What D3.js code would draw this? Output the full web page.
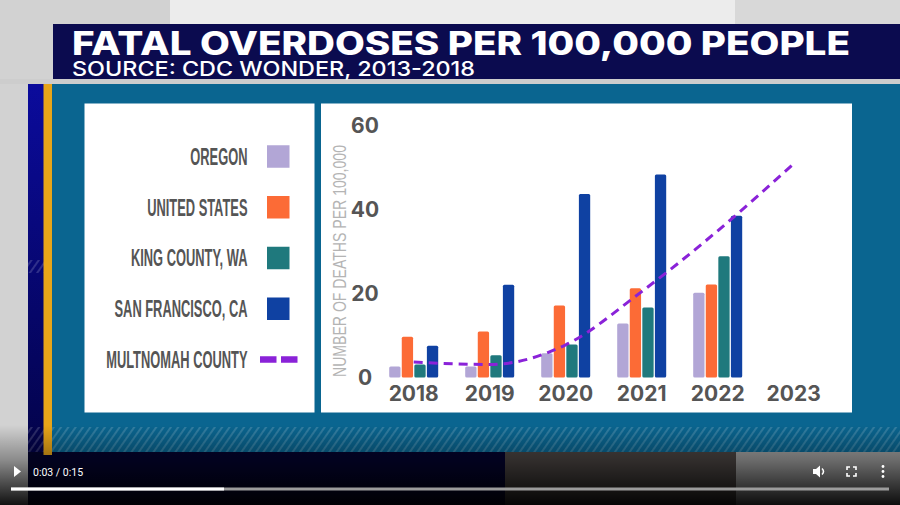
<!DOCTYPE html>
<html><head><meta charset="utf-8">
<script src="https://cdn.jsdelivr.net/npm/d3@7"></script>
<style>html,body{margin:0;padding:0;background:#000;overflow:hidden}</style>
</head><body>
<svg id="c" width="900" height="505"></svg>
<script>
// ---------- data ----------
const years = ["2018","2019","2020","2021","2022","2023"];
const seriesNames = ["OREGON","UNITED STATES","KING COUNTY, WA","SAN FRANCISCO, CA"];
const oregon       = [2.6, 2.6, 5.8, 12.9, 20.2, null];
const unitedStates = [9.7, 11.0, 17.2, 21.3, 22.2, null];
const kingCounty   = [3.1, 5.3, 7.9, 16.7, 28.9, null];
const sanFrancisco = [7.6, 22.1, 43.8, 48.4, 38.6, null];
const lineName = "MULTNOMAH COUNTY";
const multnomah    = [3.7, 3.1, 7.8, 20.5, 35.0, 51.0];
const yTicks = [0, 20, 40, 60];
const title = "FATAL OVERDOSES PER 100,000 PEOPLE";
const subtitle = "SOURCE: CDC WONDER, 2013-2018";
const yTitle = "NUMBER OF DEATHS PER 100,000";
const timeText = "0:03 / 0:15";

const barColors = ["#b2a6d6", "#fc6b36", "#1f797d", "#0f41a2"];
const lineColor = "#8a22d8";
const seriesValues = [oregon, unitedStates, kingCounty, sanFrancisco];

// ---------- frame ----------
const svg = d3.select("#c");
const W = 900, H = 505;
const defs = svg.append("defs");

const hatch = defs.append("pattern").attr("id","hatch").attr("patternUnits","userSpaceOnUse")
  .attr("width",6).attr("height",6).attr("patternTransform","rotate(35)");
hatch.append("line").attr("x1",1).attr("y1",0).attr("x2",1).attr("y2",6)
  .attr("stroke","rgba(255,255,255,0.16)").attr("stroke-width",2);

const navyG = defs.append("linearGradient").attr("id","navyG").attr("x1",0).attr("y1",0).attr("x2",0).attr("y2",1);
navyG.append("stop").attr("offset","0%").attr("stop-color","#0b0b9c");
navyG.append("stop").attr("offset","100%").attr("stop-color","#03034a");

const shade = defs.append("linearGradient").attr("id","shade").attr("x1",0).attr("y1",0).attr("x2",0).attr("y2",1);
shade.append("stop").attr("offset","0%").attr("stop-color","#000").attr("stop-opacity",0);
shade.append("stop").attr("offset","45%").attr("stop-color","#000").attr("stop-opacity",0.35);
shade.append("stop").attr("offset","100%").attr("stop-color","#000").attr("stop-opacity",0.92);

svg.append("rect").attr("width",W).attr("height",H).attr("fill","#d2d2d2");
svg.append("rect").attr("x",170).attr("y",0).attr("width",565).attr("height",84).attr("fill","#ececec");
svg.append("rect").attr("x",735).attr("y",0).attr("width",165).attr("height",84).attr("fill","#d8d8d8");
svg.append("rect").attr("x",0).attr("y",79).attr("width",W).attr("height",5).attr("fill","#cdcdcd");

// title banner
svg.append("rect").attr("x",53).attr("y",24).attr("width",W-53).attr("height",55).attr("fill","#0b0b4f");
svg.append("text").attr("x",72).attr("y",55).text(title)
  .attr("font-family","Inter, 'Liberation Sans', sans-serif").attr("font-weight",800)
  .attr("font-size",32).attr("fill","#fff")
  .attr("textLength",778).attr("lengthAdjust","spacingAndGlyphs");
svg.append("text").attr("x",72).attr("y",75.5).text(subtitle)
  .attr("font-family","Inter, 'Liberation Sans', sans-serif").attr("font-weight",500)
  .attr("font-size",20).attr("fill","#fff")
  .attr("textLength",403).attr("lengthAdjust","spacingAndGlyphs");

// teal body
svg.append("rect").attr("x",52).attr("y",84).attr("width",W-52).attr("height",368).attr("fill","#0a6590");
svg.append("rect").attr("x",28).attr("y",84).attr("width",16).attr("height",369).attr("fill","url(#navyG)");
// video lower area
svg.append("rect").attr("x",28).attr("y",452).attr("width",477).attr("height",53).attr("fill","#03032e");
svg.append("rect").attr("x",505).attr("y",452).attr("width",231).attr("height",53).attr("fill","#4a4442");
svg.append("rect").attr("x",736).attr("y",452).attr("width",164).attr("height",53).attr("fill","#a2a2a2");
// hatch band
svg.append("rect").attr("x",28).attr("y",427).attr("width",W-28).attr("height",25).attr("fill","url(#hatch)");
svg.append("rect").attr("x",28).attr("y",260).attr("width",24).attr("height",13).attr("fill","url(#hatch)");
// gold stripe
svg.append("rect").attr("x",43.5).attr("y",84).attr("width",8.5).attr("height",371).attr("fill","#e8a519");

// white panels
svg.append("rect").attr("x",84.5).attr("y",103.5).attr("width",230).attr("height",309).attr("fill","#fff");
svg.append("rect").attr("x",321).attr("y",103.5).attr("width",531).attr("height",309).attr("fill","#fff");

// ---------- legend ----------
const legendItems = seriesNames.map((n,i)=>({name:n,color:barColors[i],type:"rect"}))
  .concat([{name:lineName,color:lineColor,type:"line"}]);
const ly = d3.scalePoint().domain(d3.range(legendItems.length)).range([156.5, 359.5]);
const lg = svg.append("g");
legendItems.forEach((d,i)=>{
  const cy = ly(i);
  lg.append("text").text(d.name)
    .attr("transform",`translate(247.5,${cy}) scale(0.56,1)`)
    .attr("text-anchor","end").attr("dy","0.36em")
    .attr("font-family","'Liberation Sans', Arial, sans-serif").attr("font-weight",700)
    .attr("font-size",23).attr("fill","#555");
  if (d.type === "rect") {
    lg.append("rect").attr("x",267).attr("y",cy-11.25).attr("width",22.5).attr("height",22.5).attr("fill",d.color);
  } else {
    lg.append("line").attr("x1",260).attr("x2",298).attr("y1",cy).attr("y2",cy)
      .attr("stroke",d.color).attr("stroke-width",6.5).attr("stroke-dasharray","16.5,4.5");
  }
});

// ---------- chart ----------
const x = d3.scaleBand().domain(years).range([375.7, 831.7]).padding(0);
const xs = d3.scaleBand().domain(seriesNames).range([-24.5, 24.5]).paddingInner(0.1);
const y = d3.scaleLinear().domain([0, 60]).range([377.5, 126]);

const yAxis = svg.append("g").attr("transform","translate(365,0)")
  .call(d3.axisLeft(y).tickValues(yTicks).tickSize(0).tickPadding(0));
yAxis.select(".domain").remove();
yAxis.selectAll("text").attr("text-anchor","middle")
  .attr("font-family","Inter, 'Liberation Sans', sans-serif").attr("font-weight",700)
  .attr("font-size",21).attr("fill","#555");

const xAxis = svg.append("g").attr("transform",`translate(0,${y(0)})`)
  .call(d3.axisBottom(x).tickSize(0).tickPadding(9));
xAxis.select(".domain").remove();
xAxis.selectAll("text")
  .attr("font-family","Inter, 'Liberation Sans', sans-serif").attr("font-weight",700)
  .attr("font-size",21).attr("fill","#555");

svg.append("text").text(yTitle)
  .attr("transform",`translate(339,261) rotate(-90)`)
  .attr("text-anchor","middle").attr("dy","0.35em")
  .attr("font-family","'Liberation Sans', Arial, sans-serif").attr("font-size",19)
  .attr("fill","#b4b4b4")
  .attr("textLength",232).attr("lengthAdjust","spacingAndGlyphs");

const barData = [];
years.forEach((yr,i)=>{
  seriesNames.forEach((s,j)=>{
    const v = seriesValues[j][i];
    if (v != null) barData.push({yr, s, v, c: barColors[j]});
  });
});
svg.append("g").selectAll("rect").data(barData).join("rect")
  .attr("x", d => x(d.yr) + x.bandwidth()/2 + xs(d.s))
  .attr("width", xs.bandwidth())
  .attr("y", d => y(d.v))
  .attr("height", d => y(0) - y(d.v))
  .attr("rx", 1.5)
  .attr("fill", d => d.c);

const line = d3.line()
  .x((d,i) => x(years[i]) + x.bandwidth()/2)
  .y(d => y(d))
  .curve(d3.curveMonotoneX);
svg.append("path").attr("d", line(multnomah))
  .attr("fill","none").attr("stroke",lineColor).attr("stroke-width",3)
  .attr("stroke-dasharray","9,6");

// ---------- video controls ----------
svg.append("rect").attr("x",0).attr("y",425).attr("width",W).attr("height",80).attr("fill","url(#shade)");
svg.append("path").attr("d","M14,466 L21,471.5 L14,477 Z").attr("fill","#fff");
svg.append("text").attr("x",33).attr("y",475.5).text(timeText)
  .attr("font-family","Roboto, 'Liberation Sans', sans-serif").attr("font-size",10.5).attr("fill","#fff");
svg.append("rect").attr("x",11).attr("y",487.5).attr("width",878).attr("height",3).attr("fill","#9c9c9c");
svg.append("rect").attr("x",11).attr("y",487.5).attr("width",213).attr("height",3).attr("fill","#fff");
// volume
svg.append("path").attr("d","M813,469 L816,469 L820,465.5 L820,477.5 L816,474 L813,474 Z").attr("fill","#fff");
svg.append("path").attr("d","M822,468.5 Q825,471.5 822,474.5").attr("fill","none").attr("stroke","#fff").attr("stroke-width",1.5);
// fullscreen
svg.append("path").attr("d","M847,470 L847,467 L850,467 M853,467 L856,467 L856,470 M856,473 L856,476 L853,476 M850,476 L847,476 L847,473")
  .attr("fill","none").attr("stroke","#fff").attr("stroke-width",1.6);
// more
[466.5, 471.5, 476.5].forEach(cy=>svg.append("circle").attr("cx",883).attr("cy",cy).attr("r",1.4).attr("fill","#fff"));
</script>
</body></html>
